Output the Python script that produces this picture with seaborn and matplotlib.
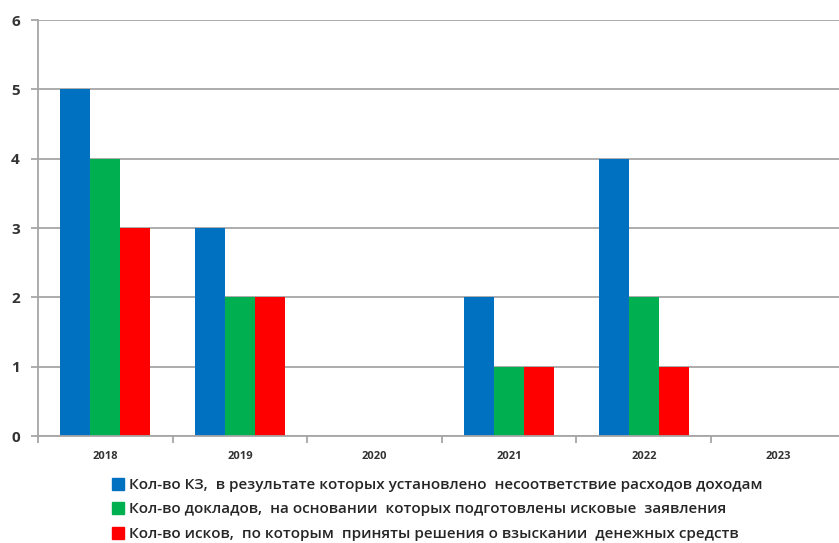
import matplotlib
matplotlib.use("Agg")
import matplotlib.pyplot as plt
import seaborn as sns
import pandas as pd
from matplotlib.lines import Line2D

years = ["2018", "2019", "2020", "2021", "2022", "2023"]
series_names = [
    "Кол-во КЗ,  в результате которых установлено  несоответствие расходов доходам",
    "Кол-во докладов,  на основании  которых подготовлены исковые  заявления",
    "Кол-во исков,  по которым  приняты решения о взыскании  денежных средств",
]
kz = [5, 3, 0, 2, 4, 0]
doklady = [4, 2, 0, 1, 2, 0]
iski = [3, 2, 0, 1, 1, 0]
colors = ["#0070C0", "#00B050", "#FF0000"]

rows = []
for name, vals in zip(series_names, [kz, doklady, iski]):
    for y, v in zip(years, vals):
        rows.append({"year": y, "series": name, "value": v})
df = pd.DataFrame(rows)

sns.set_theme(style="white")
plt.rcParams["font.family"] = ["Open Sans", "DejaVu Sans"]

fig = plt.figure(figsize=(8.39, 5.43), dpi=100)
ax = fig.add_axes([38 / 839, 1 - 436 / 543, 1 - 38 / 839 + 0.008, (436 - 20) / 543])

sns.barplot(data=df, x="year", y="value", hue="series", palette=colors,
            width=0.67, saturation=1, ax=ax, legend=False, errorbar=None,
            linewidth=0, edgecolor="none")

ax.set_ylim(0, 6)
ax.set_yticks(range(0, 7))
ax.set_xlim(-0.5, 5.5)
ax.yaxis.grid(True, color="#A6A6A6", linewidth=1.3)
ax.set_axisbelow(True)
ax.set_xlabel("")
ax.set_ylabel("")
for s in ["top", "right"]:
    ax.spines[s].set_visible(False)
for s in ["left", "bottom"]:
    ax.spines[s].set_color("#A6A6A6")
    ax.spines[s].set_linewidth(1.3)

ax.set_xticks([i - 0.5 for i in range(7)], minor=False)
ax.set_xticklabels([])
ax.set_xticks(range(6), minor=True)
ax.set_xticklabels(years, minor=True, fontsize=8, fontweight="bold", color="#333333")
ax.tick_params(axis="x", which="major", length=5, width=1.3, color="#A6A6A6", direction="out", bottom=True)
ax.tick_params(axis="x", which="minor", length=0, pad=11)
ax.tick_params(axis="y", length=5, width=1.3, color="#A6A6A6", direction="out", left=True,
               labelsize=11, pad=8)
for lab in ax.get_yticklabels():
    lab.set_fontweight("bold")
    lab.set_color("#333333")

handles = [Line2D([0], [0], marker="s", linestyle="none", markersize=8,
                  markerfacecolor=c, markeredgecolor=c) for c in colors]
fig.legend(handles, series_names, loc="upper left", bbox_to_anchor=(104 / 839, 1 - 472 / 543),
           frameon=False, handletextpad=0.25, labelspacing=0.68,
           handlelength=1.0, borderaxespad=0, prop={"weight": "semibold", "size": 11})

fig.savefig("out.png", dpi=100)
